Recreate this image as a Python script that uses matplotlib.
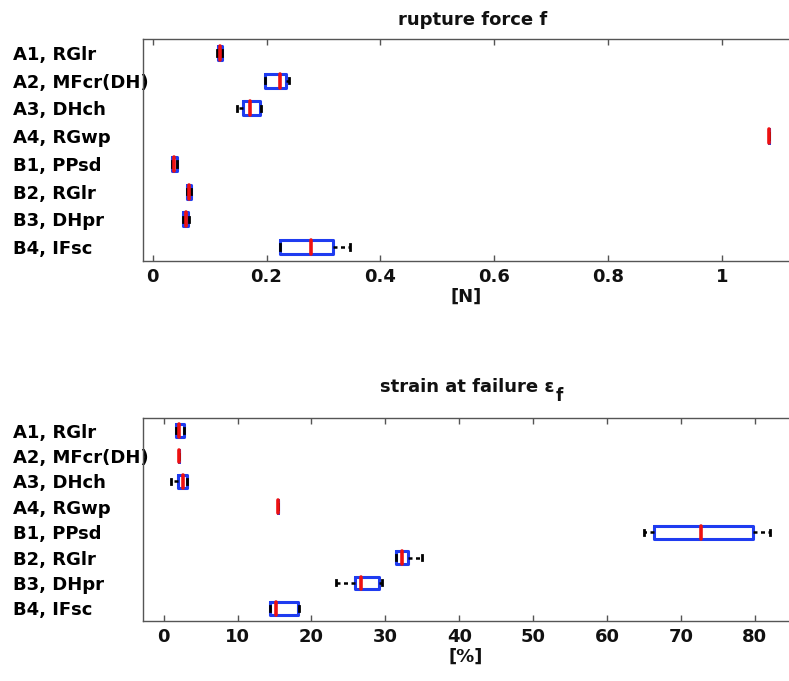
import matplotlib
matplotlib.use('Agg')
import matplotlib.pyplot as plt

plt.rcParams['font.family'] = ['DejaVu Sans']
plt.rcParams['font.weight'] = 'bold'

categories = ['A1, RGlr', 'A2, MFcr(DH)', 'A3, DHch', 'A4, RGwp',
              'B1, PPsd', 'B2, RGlr', 'B3, DHpr', 'B4, IFsc']

# rupture force [N]
force_whislo = [0.113, 0.1975, 0.149, 1.083, 0.034, 0.060, 0.054, 0.224]
force_q1     = [0.115, 0.1975, 0.159, 1.083, 0.034, 0.060, 0.054, 0.224]
force_med    = [0.118, 0.223, 0.171, 1.083, 0.038, 0.064, 0.058, 0.278]
force_q3     = [0.122, 0.235, 0.188, 1.083, 0.042, 0.068, 0.062, 0.3175]
force_whishi = [0.122, 0.240, 0.190, 1.083, 0.042, 0.068, 0.064, 0.347]

# strain at failure [%]
strain_whislo = [1.7, 2.0, 1.0, 15.4, 65.0, 31.4, 23.3, 14.4]
strain_q1     = [1.7, 2.0, 1.9, 15.4, 66.4, 31.4, 25.9, 14.4]
strain_med    = [2.1, 2.0, 2.6, 15.4, 72.7, 32.2, 26.7, 15.2]
strain_q3     = [2.8, 2.0, 3.1, 15.4, 79.8, 33.0, 29.2, 18.2]
strain_whishi = [2.8, 2.0, 3.1, 15.4, 82.1, 34.9, 29.6, 18.3]

force_ticks = [0, 0.2, 0.4, 0.6, 0.8, 1]
force_ticklabels = ['0', '0.2', '0.4', '0.6', '0.8', '1']
strain_ticks = [0, 10, 20, 30, 40, 50, 60, 70, 80]

W, H = 789, 681
FS = 13
fig = plt.figure(figsize=(W / 100, H / 100), dpi=100)

ax_left = 142.6 / W
ax_width = (805 - 142.6) / W
ax1 = fig.add_axes([ax_left, 1 - 261 / H, ax_width, (261 - 39) / H])
ax2 = fig.add_axes([ax_left, 1 - 621 / H, ax_width, (621 - 418) / H])

positions = list(range(1, len(categories) + 1))


def draw(ax, wl, q1, med, q3, wh, xlim, ticks, ticklabels, xlabel):
    stats = []
    for i in range(len(categories)):
        stats.append(dict(whislo=wl[i], q1=q1[i], med=med[i], q3=q3[i],
                          whishi=wh[i], fliers=[], label=categories[i]))
    ax.bxp(stats, positions=positions, orientation='horizontal', widths=0.5,
           showfliers=False, capwidths=0.2,
           boxprops=dict(color='#1f3cf0', linewidth=2.2,
                         solid_joinstyle='round', solid_capstyle='round'),
           medianprops=dict(color='#ee1111', linewidth=2.6,
                            solid_capstyle='round'),
           whiskerprops=dict(color='black', linewidth=1.8,
                             linestyle=(0, (1.6, 1.4))),
           capprops=dict(color='black', linewidth=2.0))
    ax.set_ylim(8.5, 0.5)
    ax.set_xlim(*xlim)
    ax.set_xticks(ticks)
    ax.set_xticklabels(ticklabels, fontsize=FS, fontweight='bold')
    ax.set_yticks(positions)
    ax.set_yticklabels(categories, fontsize=FS, fontweight='bold', ha='left')
    ax.tick_params(axis='y', length=0, pad=(142.6 - 13) * 72 / 100)
    ax.tick_params(axis='x', direction='in', top=True, length=4,
                   color='#555555', width=1, pad=5, labelcolor='#111111')
    for s in ax.spines.values():
        s.set_color('#555555')
        s.set_linewidth(1)
    ax.spines['right'].set_visible(False)
    ax.set_xlabel(xlabel, fontsize=FS, fontweight='bold', labelpad=1,
                  x=(466 - 142.6) / (805 - 142.6), color='#111111')


draw(ax1, force_whislo, force_q1, force_med, force_q3, force_whishi,
     (-0.0176, 1.1457), force_ticks, force_ticklabels, '[N]')
draw(ax2, strain_whislo, strain_q1, strain_med, strain_q3, strain_whishi,
     (-2.86, 86.8), strain_ticks, [str(t) for t in strain_ticks], '[%]')

ax1.set_title('rupture force f', fontsize=FS, fontweight='bold', pad=10,
              x=(473 - 142.6) / (805 - 142.6), color='#111111')
t2 = ax2.set_title('strain at failure \u03b5', fontsize=FS, fontweight='bold',
                   pad=19, x=(467 - 142.6) / (805 - 142.6), color='#111111')

fig.canvas.draw()
bb = t2.get_window_extent()
fig.text((bb.x1 + 1) / W, (bb.y0 - 9) / H, 'f', fontsize=FS - 1,
         fontweight='bold', color='#111111', ha='left', va='bottom')

fig.savefig('out.png', dpi=100)
